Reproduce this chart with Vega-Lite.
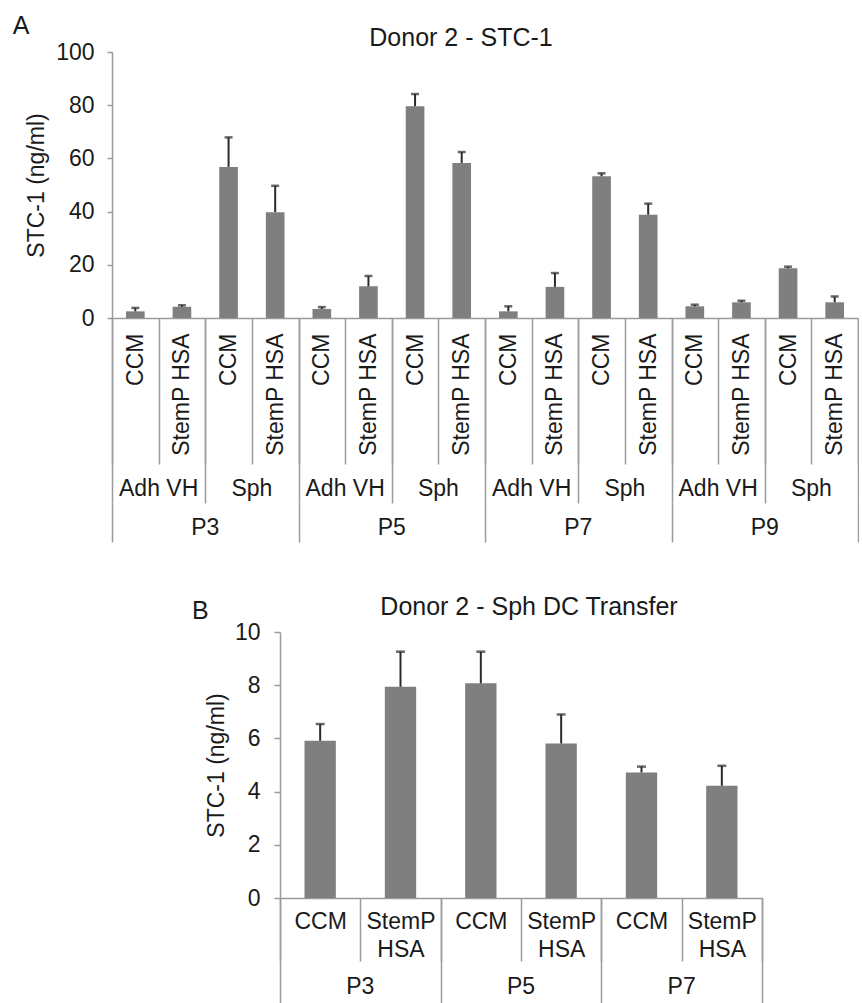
{
  "$schema": "https://vega.github.io/schema/vega-lite/v6.json",
  "padding": {"left": 12, "top": 14, "right": 0, "bottom": 0},
  "background": "white",
  "title": {"text": "A", "anchor": "start", "frame": "bounds", "fontSize": 25, "dx": -13, "offset": -13},
  "config": {
    "font": "Liberation Sans",
    "view": {"stroke": null},
    "title": {"font": "Liberation Sans", "fontWeight": "normal", "color": "#1a1a1a"},
    "axis": {
      "labelFont": "Liberation Sans", "titleFont": "Liberation Sans",
      "labelColor": "#1a1a1a", "titleColor": "#1a1a1a",
      "domainColor": "#9a9a9a", "tickColor": "#9a9a9a",
      "domainWidth": 1.5, "tickWidth": 1.5, "grid": false,
      "titleFontWeight": "normal"
    }
  },
  "datasets": {
    "donorA": [
      {"sample": "P3 Adh VH CCM", "medium": "CCM", "mean": 2.5, "hi": 3.8},
      {"sample": "P3 Adh VH StemP HSA", "medium": "StemP HSA", "mean": 4.2, "hi": 4.8},
      {"sample": "P3 Sph CCM", "medium": "CCM", "mean": 56.8, "hi": 67.9},
      {"sample": "P3 Sph StemP HSA", "medium": "StemP HSA", "mean": 39.8, "hi": 49.7},
      {"sample": "P5 Adh VH CCM", "medium": "CCM", "mean": 3.4, "hi": 4.1},
      {"sample": "P5 Adh VH StemP HSA", "medium": "StemP HSA", "mean": 11.9, "hi": 15.8},
      {"sample": "P5 Sph CCM", "medium": "CCM", "mean": 79.6, "hi": 84.2},
      {"sample": "P5 Sph StemP HSA", "medium": "StemP HSA", "mean": 58.3, "hi": 62.4},
      {"sample": "P7 Adh VH CCM", "medium": "CCM", "mean": 2.5, "hi": 4.4},
      {"sample": "P7 Adh VH StemP HSA", "medium": "StemP HSA", "mean": 11.7, "hi": 16.9},
      {"sample": "P7 Sph CCM", "medium": "CCM", "mean": 53.3, "hi": 54.4},
      {"sample": "P7 Sph StemP HSA", "medium": "StemP HSA", "mean": 38.8, "hi": 43.0},
      {"sample": "P9 Adh VH CCM", "medium": "CCM", "mean": 4.4, "hi": 5.0},
      {"sample": "P9 Adh VH StemP HSA", "medium": "StemP HSA", "mean": 5.9, "hi": 6.5},
      {"sample": "P9 Sph CCM", "medium": "CCM", "mean": 18.7, "hi": 19.3},
      {"sample": "P9 Sph StemP HSA", "medium": "StemP HSA", "mean": 5.9, "hi": 8.1}
    ],
    "groupsA": [
      {"group": "P3 Adh VH", "culture": "Adh VH"},
      {"group": "P3 Sph", "culture": "Sph"},
      {"group": "P5 Adh VH", "culture": "Adh VH"},
      {"group": "P5 Sph", "culture": "Sph"},
      {"group": "P7 Adh VH", "culture": "Adh VH"},
      {"group": "P7 Sph", "culture": "Sph"},
      {"group": "P9 Adh VH", "culture": "Adh VH"},
      {"group": "P9 Sph", "culture": "Sph"}
    ],
    "passagesA": [
      {"passage": "P3"}, {"passage": "P5"}, {"passage": "P7"}, {"passage": "P9"}
    ],
    "donorB": [
      {"sample": "P3 CCM", "medium": "CCM", "mean": 5.91, "hi": 6.54},
      {"sample": "P3 StemP HSA", "medium": "StemP HSA", "mean": 7.94, "hi": 9.26},
      {"sample": "P5 CCM", "medium": "CCM", "mean": 8.07, "hi": 9.26},
      {"sample": "P5 StemP HSA", "medium": "StemP HSA", "mean": 5.81, "hi": 6.9},
      {"sample": "P7 CCM", "medium": "CCM", "mean": 4.72, "hi": 4.94},
      {"sample": "P7 StemP HSA", "medium": "StemP HSA", "mean": 4.22, "hi": 4.97}
    ],
    "passagesB": [
      {"passage": "P3"}, {"passage": "P5"}, {"passage": "P7"}
    ]
  },
  "spacing": 0,
  "bounds": "flush",
  "vconcat": [
    {
      "title": {"text": "Donor 2 - STC-1", "fontSize": 25, "anchor": "middle", "dx": -24, "offset": -10},
      "width": 746,
      "height": 266,
      "data": {"name": "donorA"},
      "encoding": {
        "x": {
          "field": "sample", "type": "nominal", "sort": null,
          "scale": {"paddingInner": 0, "paddingOuter": 0},
          "axis": {
            "title": null, "tickBand": "extent", "tickSize": 146,
            "labelAngle": 270, "labelAlign": "right", "labelBaseline": "middle",
            "labelPadding": -131, "labelFontSize": 23, "labelOverlap": false,
            "labelBound": false, "labelFlush": false,
            "labelExpr": "datum.value == null ? '' : (test(/StemP/, '' + datum.value) ? 'StemP HSA' : 'CCM')"
          }
        }
      },
      "layer": [
        {
          "mark": {"type": "bar", "color": "#7f7f7f", "width": {"band": 0.4}},
          "encoding": {
            "y": {
              "field": "mean", "type": "quantitative", "title": "STC-1 (ng/ml)",
              "scale": {"domain": [0, 100], "nice": false},
              "axis": {"values": [0, 20, 40, 60, 80, 100], "tickSize": 5, "labelPadding": 13, "labelFontSize": 23, "titleFontSize": 23, "titlePadding": 7}
            }
          }
        },
        {
          "mark": {"type": "rule", "color": "#2b2b2b", "strokeWidth": 2},
          "encoding": {
            "y": {"field": "mean", "type": "quantitative"},
            "y2": {"field": "hi"}
          }
        },
        {
          "mark": {"type": "tick", "color": "#2b2b2b", "size": 8, "thickness": 2.5},
          "encoding": {
            "y": {"field": "hi", "type": "quantitative"}
          }
        }
      ]
    },
    {
      "width": 746,
      "height": 185,
      "data": {"name": "groupsA"},
      "mark": {"type": "text", "fontSize": 23, "baseline": "middle", "dy": 78, "color": "#1a1a1a"},
      "encoding": {
        "x": {
          "field": "group", "type": "nominal", "sort": null,
          "scale": {"paddingInner": 0, "paddingOuter": 0},
          "axis": {"title": null, "labels": false, "domain": false, "tickBand": "extent", "tickSize": 185, "offset": -185}
        },
        "text": {"field": "culture", "type": "nominal"}
      }
    },
    {
      "title": {"text": "B", "orient": "bottom", "anchor": "start", "frame": "group", "fontSize": 25, "dx": 80, "offset": -33},
      "width": 746,
      "height": 129,
      "data": {"name": "passagesA"},
      "mark": {"type": "text", "fontSize": 23, "baseline": "middle", "dy": -40, "color": "#1a1a1a"},
      "encoding": {
        "x": {
          "field": "passage", "type": "nominal", "sort": null,
          "scale": {"paddingInner": 0, "paddingOuter": 0},
          "axis": {"title": null, "labels": false, "domain": false, "tickBand": "extent", "tickSize": 39, "offset": -129}
        },
        "text": {"field": "passage", "type": "nominal"}
      }
    },
    {
      "title": {"text": "Donor 2 - Sph DC Transfer", "fontSize": 25, "anchor": "middle", "dx": 92, "offset": 1},
      "width": 650,
      "height": 266,
      "data": {"name": "donorB"},
      "encoding": {
        "x": {
          "field": "sample", "type": "nominal", "sort": null,
          "scale": {"paddingInner": 0, "paddingOuter": 0, "rangeMin": 168},
          "axis": {
            "title": null, "tickBand": "extent", "tickSize": 63,
            "labelAngle": 0, "labelAlign": "center", "labelBaseline": "top",
            "labelPadding": -51, "labelFontSize": 23, "labelLineHeight": 28,
            "labelOverlap": false, "labelBound": false, "labelFlush": false,
            "labelExpr": "datum.value == null ? '' : (test(/StemP/, '' + datum.value) ? ['StemP', 'HSA'] : 'CCM')"
          }
        }
      },
      "layer": [
        {
          "mark": {"type": "bar", "color": "#7f7f7f", "width": {"band": 0.39}},
          "encoding": {
            "y": {
              "field": "mean", "type": "quantitative", "title": "STC-1 (ng/ml)",
              "scale": {"domain": [0, 10], "nice": false},
              "axis": {"values": [0, 2, 4, 6, 8, 10], "offset": -168, "tickSize": 6, "labelPadding": 14, "labelFontSize": 23, "titleFontSize": 23, "titlePadding": 6}
            }
          }
        },
        {
          "mark": {"type": "rule", "color": "#2b2b2b", "strokeWidth": 2},
          "encoding": {
            "y": {"field": "mean", "type": "quantitative"},
            "y2": {"field": "hi"}
          }
        },
        {
          "mark": {"type": "tick", "color": "#2b2b2b", "size": 9, "thickness": 2.5},
          "encoding": {
            "y": {"field": "hi", "type": "quantitative"}
          }
        }
      ]
    },
    {
      "width": 650,
      "height": 105,
      "data": {"name": "passagesB"},
      "mark": {"type": "text", "fontSize": 23, "baseline": "middle", "dy": 36, "color": "#1a1a1a"},
      "encoding": {
        "x": {
          "field": "passage", "type": "nominal", "sort": null,
          "scale": {"paddingInner": 0, "paddingOuter": 0, "rangeMin": 168},
          "axis": {"title": null, "labels": false, "domain": false, "tickBand": "extent", "tickSize": 105, "offset": -105}
        },
        "text": {"field": "passage", "type": "nominal"}
      }
    }
  ]
}
